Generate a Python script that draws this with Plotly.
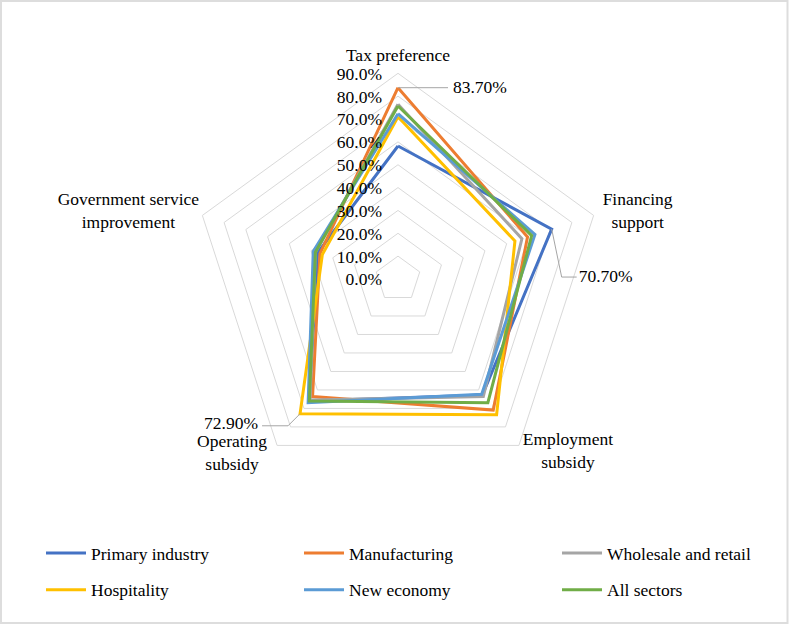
import math
import plotly.graph_objects as go

categories = ["Tax preference", "Financing support", "Employment subsidy",
              "Operating subsidy", "Government service improvement"]

primary = [58.2, 70.7, 62.8, 66.0, 37.0]
manufacturing = [83.7, 59.6, 70.9, 63.6, 35.9]
wholesale = [76.5, 57.0, 63.5, 65.5, 38.0]
hospitality = [71.0, 53.8, 73.4, 72.9, 34.8]
new_economy = [72.3, 63.0, 62.3, 66.9, 39.0]
all_sectors = [75.7, 61.5, 66.9, 66.0, 38.0]

series_names = ["Primary industry", "Manufacturing", "Wholesale and retail",
                "Hospitality", "New economy", "All sectors"]
series_values = [primary, manufacturing, wholesale, hospitality, new_economy, all_sectors]
colors = ["#4472C4", "#ED7D31", "#A5A5A5", "#FFC000", "#5B9BD5", "#70AD47"]
legend_ids = ["legend", "legend2", "legend3", "legend", "legend2", "legend3"]

tick_vals = [0, 10, 20, 30, 40, 50, 60, 70, 80, 90]
RMAX = 90
RMAX2 = 122                 # overlay subplot range (for labels outside the web)

W, H = 789, 624
CX, CY = 398, 279          # centre in px (from top-left)
R_PX = 205.7               # radius of outer ring in px
FONT = "Liberation Serif"
TXT = dict(family=FONT, size=17.5, color="#000")

n = len(categories)
angles = [i * 360 / n for i in range(n)]
s = R_PX / RMAX

fig = go.Figure()
for i, (name, vals, col, lg) in enumerate(zip(series_names, series_values, colors, legend_ids)):
    fig.add_trace(go.Scatterpolar(
        r=vals + [vals[0]], theta=categories + [categories[0]], mode="lines", name=name,
        line=dict(color=col, width=3), hoverinfo="skip", legend=lg,
        legendgroup="g%d" % i, subplot="polar"))


def to_polar(v, th, offsets):
    """start at (v, th) and walk pixel offsets; return list of polar coords"""
    x = v * s * math.sin(math.radians(th))
    y = v * s * math.cos(math.radians(th))  # up positive
    rs, ts = [v], [th]
    for dx, dy in offsets:
        x += dx
        y -= dy
        rs.append(math.hypot(x, y) / s)
        ts.append(math.degrees(math.atan2(x, y)) % 360)
    return rs, ts


# radial tick labels (left of the top spoke)
tr, tt = [], []
for t in tick_vals:
    rs, ts = to_polar(t, 0, [(-16, 2)])
    tr.append(rs[-1])
    tt.append(ts[-1])
fig.add_trace(go.Scatterpolar(r=tr, theta=tt, mode="text",
                              text=["%.1f%%" % t for t in tick_vals],
                              textposition="middle left", textfont=TXT,
                              showlegend=False, hoverinfo="skip", cliponaxis=False,
                              subplot="polar2"))

# category labels placed outside the outer ring
cat_text = ["Tax preference", "Financing<br>support", "Employment<br>subsidy",
            "Operating<br>subsidy", "Government service<br>improvement"]
cat_offsets = [(0, -17), (44, -3), (49, 7), (-45, 9), (-74, -3)]
cr, ct = [], []
for ang, off in zip(angles, cat_offsets):
    rs, ts = to_polar(RMAX, ang, [off])
    cr.append(rs[-1])
    ct.append(ts[-1])
fig.add_trace(go.Scatterpolar(r=cr, theta=ct, mode="text", text=cat_text,
                              textposition="middle center", textfont=TXT,
                              showlegend=False, hoverinfo="skip", cliponaxis=False,
                              subplot="polar2"))

# data labels with leader lines: (value, angle, leader path, text gap, text position)
labels = [
    (manufacturing[0], angles[0], [(50, 0)], (5, 1), "middle right"),
    (primary[1], angles[1], [(10, 48), (15, 0)], (2, 1), "middle right"),
    (hospitality[3], angles[3], [(-12, 12), (-26, 0)], (-4, -1), "middle left"),
]
for v, th, offs, gap, pos in labels:
    rs, ts = to_polar(v, th, offs)
    fig.add_trace(go.Scatterpolar(r=rs, theta=ts, mode="lines",
                                  line=dict(color="#A5A5A5", width=1),
                                  showlegend=False, hoverinfo="skip", cliponaxis=False,
                                  subplot="polar2"))
    rt, tht = to_polar(v, th, offs + [gap])
    fig.add_trace(go.Scatterpolar(r=[rt[-1]], theta=[tht[-1]], mode="text",
                                  text=["%.2f%%" % v], textposition=pos, textfont=TXT,
                                  showlegend=False, hoverinfo="skip", cliponaxis=False,
                                  subplot="polar2"))

domain = dict(x=[(CX - R_PX) / W, (CX + R_PX) / W],
              y=[(H - CY - R_PX) / H, (H - CY + R_PX) / H])
R2 = R_PX * RMAX2 / RMAX
domain2 = dict(x=[(CX - R2) / W, (CX + R2) / W],
               y=[max(0, (H - CY - R2) / H), min(1, (H - CY + R2) / H)])

legend_common = dict(orientation="v", yanchor="top", xanchor="left",
                     font=TXT, tracegroupgap=11, itemwidth=40,
                     bgcolor="rgba(0,0,0,0)")
leg_y = 1 - 535 / H

fig.update_layout(
    width=W, height=H,
    margin=dict(l=0, r=0, t=0, b=0),
    paper_bgcolor="white", plot_bgcolor="white",
    font=TXT,
    polar=dict(
        domain=domain, bgcolor="white", gridshape="linear",
        radialaxis=dict(range=[0, RMAX], tickvals=tick_vals, showticklabels=False,
                        angle=90, showline=False, ticks="",
                        gridcolor="#D9D9D9", gridwidth=1),
        angularaxis=dict(direction="clockwise", rotation=90,
                         categoryorder="array", categoryarray=categories,
                         showticklabels=False, showgrid=False, showline=True,
                         linecolor="#D9D9D9", linewidth=1, ticks=""),
    ),
    polar2=dict(
        domain=domain2, bgcolor="rgba(0,0,0,0)",
        radialaxis=dict(range=[0, RMAX2], visible=False),
        angularaxis=dict(direction="clockwise", rotation=90, thetaunit="degrees",
                         visible=False),
    ),
    legend=dict(x=41 / W, y=leg_y, **legend_common),
    legend2=dict(x=299 / W, y=leg_y, **legend_common),
    legend3=dict(x=557 / W, y=leg_y, **legend_common),
    shapes=[dict(type="rect", xref="paper", yref="paper", x0=1 / W, y0=1 / H,
                 x1=1 - 1.5 / W, y1=1 - 1 / H, line=dict(color="#DDDDDD", width=2))],
)

fig.write_html("out.html", config={"displayModeBar": False},
               post_script="document.body.style.margin='0';")
